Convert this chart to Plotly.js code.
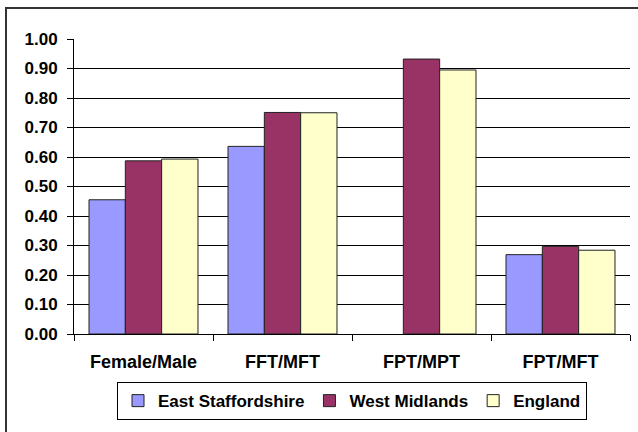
<!DOCTYPE html>
<html>
<head>
<meta charset="utf-8">
<script src="https://cdn.plot.ly/plotly-3.0.1.min.js"></script>
<style>
  html, body { margin: 0; padding: 0; background: #fff; }
  #chart { width: 638px; height: 432px; }
</style>
</head>
<body>
<div id="chart"></div>
<script>
const categories = ["Female/Male", "FFT/MFT", "FPT/MPT", "FPT/MFT"];
const seriesNames = ["East Staffordshire", "West Midlands", "England"];
const eastStaffordshire = [0.455, 0.636, null, 0.269];
const westMidlands = [0.587, 0.751, 0.932, 0.297];
const england = [0.593, 0.750, 0.895, 0.284];
const yTickValues = [0, 0.1, 0.2, 0.3, 0.4, 0.5, 0.6, 0.7, 0.8, 0.9, 1.0];

const colors = ["#9999FF", "#993366", "#FFFFCC"];
const values = [eastStaffordshire, westMidlands, england];

const traces = values.map((v, i) => ({
  type: "bar",
  name: seriesNames[i],
  x: categories,
  y: v,
  marker: { color: colors[i], line: { color: "#222", width: 1 } },
  hoverinfo: "x+y+name"
}));

const font = { family: "Liberation Sans, Arial, sans-serif", size: 17, color: "#000", weight: 700 };
const catFont = Object.assign({}, font, { size: 18 });

const layout = {
  width: 638,
  height: 432,
  margin: { l: 74, r: 8, t: 39, b: 98 },
  paper_bgcolor: "#fff",
  plot_bgcolor: "#fff",
  font: font,
  barmode: "group",
  bargap: 0.216,
  bargroupgap: 0,
  showlegend: true,
  legend: {
    orientation: "h",
    x: 0.5, xanchor: "center",
    y: -0.163, yanchor: "top",
    bordercolor: "#000", borderwidth: 1,
    font: font,
    traceorder: "normal"
  },
  xaxis: {
    type: "category",
    showline: true, linecolor: "#000", linewidth: 1,
    ticks: "outside", tickson: "boundaries", ticklen: 6, tickcolor: "#000",
    ticklabelstandoff: 11,
    showgrid: false, zeroline: false,
    tickfont: catFont
  },
  yaxis: {
    range: [0, 1],
    tickvals: yTickValues,
    tickformat: ".2f",
    showline: true, linecolor: "#000", linewidth: 1,
    ticks: "outside", ticklen: 6, tickcolor: "#000",
    ticklabelstandoff: 6,
    showgrid: true, gridcolor: "#000", gridwidth: 1,
    zeroline: false,
    tickfont: font
  },
  shapes: [{
    type: "rect", xref: "paper", yref: "paper", layer: "below",
    x0: -0.1223, x1: 1.04, y0: -0.45, y1: 1.105,
    line: { color: "#333", width: 2 }, fillcolor: "rgba(0,0,0,0)"
  }]
};

Plotly.newPlot("chart", traces, layout, { displayModeBar: false, staticPlot: true });
</script>
</body>
</html>
